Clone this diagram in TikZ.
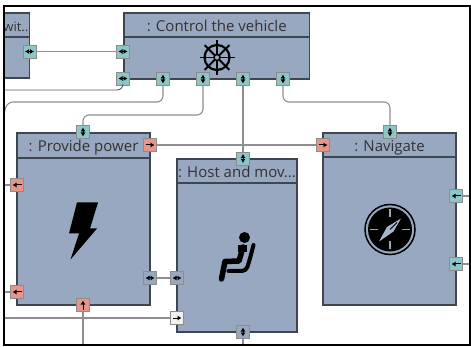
\documentclass[tikz,border=0pt]{standalone}
\usepackage{fontspec}
\setmainfont{Open Sans}
\usepackage{xcolor}
\usetikzlibrary{arrows.meta}
\definecolor{blockblue}{HTML}{98A8C0}
\definecolor{blockline}{HTML}{3E4650}
\definecolor{portteal}{HTML}{8CC6C6}
\definecolor{portred}{HTML}{E8948A}
\definecolor{portwhite}{HTML}{F0F0EE}
\definecolor{wiregray}{HTML}{8E8E8E}

\begin{document}
\begin{tikzpicture}[>={Latex[length=4pt,width=5pt]}, x=1pt, y=-1pt]

                \tikzset{% styles for blocks, ports and wires
                    block/.style={rectangle,draw=blockline,line width=1.1pt,fill=blockblue,inner sep=0pt},
                    blocktitle/.style={block,font=\fontsize{15}{17}\selectfont,text=black!80,text height=14pt,text depth=1pt},
                    port/.style={rectangle,draw=black!45,line width=.8pt,fill=#1,minimum size=13pt,inner sep=0pt},
                    glyph/.style={black,line width=1pt},
                    portboth/.style={port=#1,path picture={\draw[glyph,<->] ([xshift=2pt]path picture bounding box.west) -- ([xshift=-2pt]path picture bounding box.east);}},
                    portupdown/.style={port=#1,path picture={\draw[glyph,<->] ([yshift=-2pt]path picture bounding box.north) -- ([yshift=2pt]path picture bounding box.south);}},
                    portright/.style={port=#1,path picture={\draw[glyph,->] ([xshift=2pt]path picture bounding box.west) -- ([xshift=-2pt]path picture bounding box.east);}},
                    portleft/.style={port=#1,path picture={\draw[glyph,<-] ([xshift=2pt]path picture bounding box.west) -- ([xshift=-2pt]path picture bounding box.east);}},
                    portup/.style={port=#1,path picture={\draw[glyph,<-] ([yshift=-2pt]path picture bounding box.north) -- ([yshift=2pt]path picture bounding box.south);}},
                    wire/.style={draw=wiregray,line width=1.1pt,rounded corners=6pt},
                    darkwire/.style={wire,draw=black!65,line width=.9pt}}

                    \useasboundingbox (0,0) rectangle (471,347);

                    \begin{scope}
                    \clip (4,6) rectangle (470,345);

                    % blocks
                    \node [block,minimum width=70pt,minimum height=65pt](drive) at (-5.5,45.5) {};
                    \node [blocktitle,minimum width=70pt,minimum height=24pt](drive_t) at (-5.5,25) {};
                    \node [font=\fontsize{13}{15}\selectfont,text=black!80,anchor=base east,inner sep=0pt](drive_l) at (28.5,31.5) {wit..};
                    \node [block,minimum width=185.5pt,minimum height=66pt](control) at (216.75,46) {};
                    \node [blocktitle,minimum width=185.5pt,minimum height=24pt](control_t) at (216.75,25) {: Control the vehicle};
                    \node [block,minimum width=133pt,minimum height=172pt](power) at (83.5,219) {};
                    \node [blocktitle,minimum width=133pt,minimum height=25pt](power_t) at (83.5,145.5) {: Provide power};
                    \node [block,minimum width=120pt,minimum height=173pt](host) at (237,245.5) {};
                    \node [blocktitle,minimum width=120pt,minimum height=24pt](host_t) at (237,171) {: Host and mov...};
                    \node [block,minimum width=133pt,minimum height=172pt](navigate) at (389.5,219) {};
                    \node [blocktitle,minimum width=133pt,minimum height=24pt](navigate_t) at (389.5,145) {: Navigate};

                    % ports
                    \node [portboth=portteal](d_r) at (29.5,51.5) {};
                    \node [portboth=portteal](c_l1) at (123,51.5) {};
                    \node [portboth=portteal](c_l2) at (123,78.5) {};
                    \node [portupdown=portteal](c_b1) at (163,79) {};
                    \node [portupdown=portteal](c_b2) at (203,79) {};
                    \node [portupdown=portteal](c_b3) at (243,79) {};
                    \node [portupdown=portteal](c_b4) at (283,79) {};

                    \node [portupdown=portteal](p_t) at (83,132) {};
                    \node [portright=portred](p_r1) at (150,145) {};
                    \node [portleft=portred](p_l1) at (17,185) {};
                    \node [portleft=portred](p_l2) at (17,292) {};
                    \node [portboth=blockblue](p_r2) at (150,278) {};
                    \node [portup=portred](p_b) at (83,305) {};

                    \node [portupdown=portteal](h_t) at (243,158.5) {};
                    \node [portboth=blockblue](h_l1) at (177,278) {};
                    \node [portright=portwhite](h_l2) at (177,318) {};
                    \node [portupdown=blockblue](h_b) at (243,332) {};

                    \node [portupdown=portteal](n_t) at (390,132) {};
                    \node [portright=portred](n_l) at (323,145) {};
                    \node [portleft=portteal](n_r1) at (456,196) {};
                    \node [portleft=portteal](n_r2) at (456,264) {};

                    % free ends and bends of the wires
                    \coordinate (w_a) at (4,90);
                    \coordinate (w_b) at (7,102);
                    \coordinate (w_c) at (4.5,112);
                    \coordinate (w_d) at (83,115);
                    \coordinate (w_e) at (390,102);
                    \coordinate (w_f) at (4,185);
                    \coordinate (w_g) at (4,292);
                    \coordinate (w_h) at (4,318);
                    \coordinate (w_i) at (83,345);
                    \coordinate (w_j) at (243,345);
                    \coordinate (w_k) at (470,196);
                    \coordinate (w_l) at (470,264);

                    % wires
                    \draw [wire] (d_r) -- (c_l1);
                    \draw [darkwire] (c_l2) |- (w_a);
                    \draw [wire] (c_b1) |- (w_b) -- (w_c);
                    \draw [wire] (c_b2) |- (w_d) -- (p_t);
                    \draw [wire] (c_b3) -- (h_t);
                    \draw [wire] (c_b4) |- (w_e) -- (n_t);
                    \draw [wire] (p_r1) -- (n_l);
                    \draw [wire] (p_r2) -- (h_l1);
                    \draw [wire] (w_h) -- (h_l2);
                    \draw [wire] (p_b) -- (w_i);
                    \draw [wire] (h_b) -- (w_j);
                    \draw [wire] (p_l1) -- (w_f);
                    \draw [wire] (p_l2) -- (w_g);
                    \draw [wire] (n_r1) -- (w_k);
                    \draw [wire] (n_r2) -- (w_l);

                    % ship wheel
                    \begin{scope}[shift={(217,57.5)}]
                        \draw [line width=2.2pt] (0,0) circle (12.5);
                        \draw [line width=1.5pt] (0,0) circle (3);
                        \foreach \a in {0,45,...,315}
                            \draw [line width=1.8pt] (\a:3) -- (\a:17.5);
                    \end{scope}

                    % bolt
                    \fill (77,202.5) -- (98,202.5) -- (90,228.5) -- (97,228.5) -- (70.5,259.5) -- (79,233.5) -- (69,233.5) -- cycle;

                    % seated person
                    \fill (244.5,237.5) circle (5.5);
                    \draw [line width=5.5pt,line cap=round,line join=round] (243,247) -- (239,261) -- (225,261.5) -- (221.5,279);
                    \fill (238,245) rectangle (246.5,252);
                    \draw [line width=4pt,line cap=round,rounded corners=4pt] (228.5,271) -- (246,271) -- (249,262) -- (253.5,245);

                    % compass
                    \begin{scope}[shift={(390,229.5)}]
                        \draw [line width=1.5pt] (0,0) circle (25);
                        \fill (0,0) circle (22);
                        \foreach \a in {0,90,180,270}
                            \draw [blockblue,line width=1.1pt] (\a:12) -- (\a:20);
                        \fill [blockblue!85!white] (11,-11) -- (3.5,2) -- (-11,12) -- (-3,-2.5) -- cycle;
                        \draw [black,line width=.8pt] (7,-7) -- (0,0);
                    \end{scope}

                    \end{scope}

                    \draw [line width=1.8pt] (4,6) rectangle (470,345);

            \end{tikzpicture}
\end{document}
